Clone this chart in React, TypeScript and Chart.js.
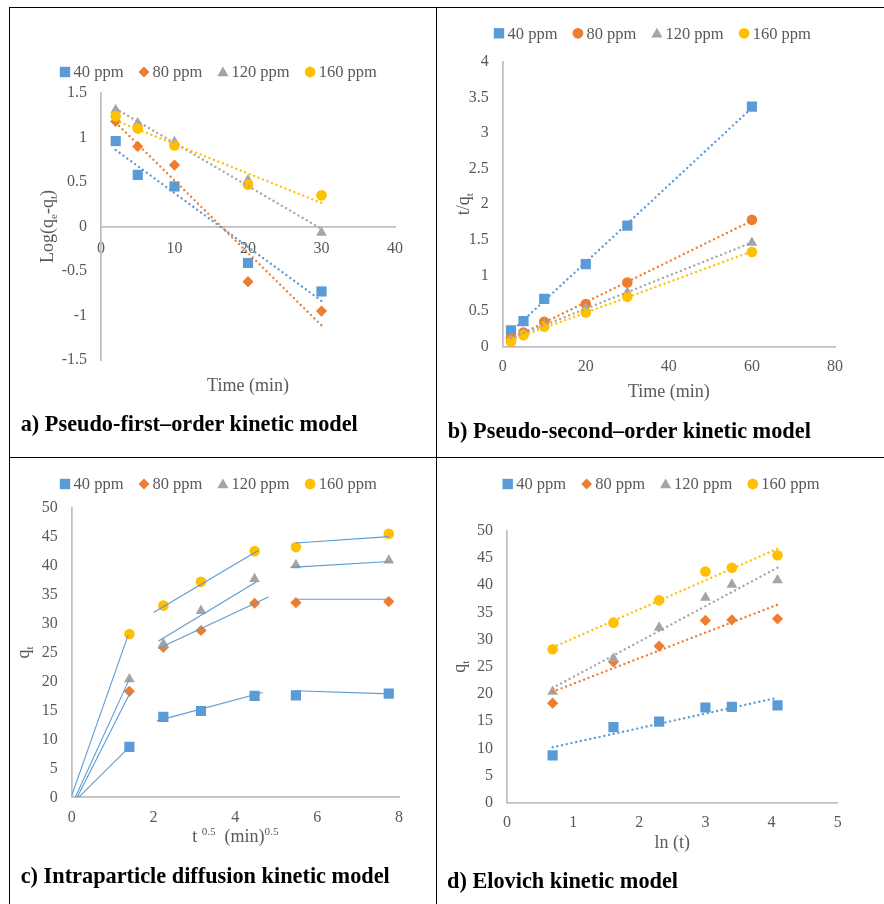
import React, { useEffect, useRef } from "react";
import { Chart, registerables } from "chart.js";

Chart.register(...registerables);

const FONT = "'Liberation Serif', 'Times New Roman', Times, serif";
const TEXT_GREY = "#595959";
const AXIS_GREY = "#BFBFBF";

const seriesLabels = ["40 ppm", "80 ppm", "120 ppm", "160 ppm"];
const seriesColors = ["#5B9BD5", "#ED7D31", "#A5A5A5", "#FFC000"];
const seriesShapes = ["rect", "rectRot", "triangle", "circle"];
const secondOrderShapes = ["rect", "circle", "triangle", "circle"];

// (a) pseudo-first-order: log(qe - qt) against time (min)
const pfoTime = [2, 5, 10, 20, 30];
const pfo40 = [0.96, 0.58, 0.45, -0.41, -0.73];
const pfo80 = [1.18, 0.9, 0.69, -0.62, -0.95];
const pfo120 = [1.31, 1.16, 0.95, 0.52, -0.07];
const pfo160 = [1.24, 1.1, 0.91, 0.47, 0.35];

// (b) pseudo-second-order: t/qt against time (min)
const psoTime = [2, 5, 10, 20, 30, 60];
const pso40 = [0.23, 0.36, 0.67, 1.16, 1.7, 3.37];
const pso80 = [0.12, 0.2, 0.35, 0.6, 0.9, 1.78];
const pso120 = [0.1, 0.19, 0.31, 0.54, 0.76, 1.46];
const pso160 = [0.07, 0.16, 0.28, 0.48, 0.7, 1.33];

// uptake qt (mg/g) at t = 2, 5, 10, 20, 30, 60 min
const sqrtTime = [1.41, 2.24, 3.16, 4.47, 5.48, 7.75];
const lnTime = [0.69, 1.61, 2.3, 3.0, 3.4, 4.09];
const qt40 = [8.7, 13.9, 14.9, 17.5, 17.6, 17.9];
const qt80 = [18.3, 25.9, 28.8, 33.5, 33.6, 33.8];
const qt120 = [20.4, 26.5, 32.2, 37.7, 40.1, 40.9];
const qt160 = [28.2, 33.1, 37.2, 42.5, 43.2, 45.5];

// (c) straight-line stages of the intraparticle diffusion plot: [x0, y0, x1, y1]
const ipdStages40 = [[0.14, -0.2, 1.5, 9.3], [2.08, 13.2, 4.67, 18.1], [5.46, 18.4, 7.78, 17.85]];
const ipdStages80 = [[0.08, -0.75, 1.43, 18.1], [2.12, 25.7, 4.81, 34.6], [5.46, 34.2, 7.78, 34.2]];
const ipdStages120 = [[0.04, -0.75, 1.41, 20.4], [2.12, 27.0, 4.52, 37.2], [5.35, 39.7, 7.78, 40.7]];
const ipdStages160 = [[0.0, 0.3, 1.38, 28.0], [2.0, 31.9, 4.56, 42.6], [5.48, 43.9, 7.75, 45.0]];

type Seg = { text: string; pos?: "sub" | "sup" };

const markerRadius: Record<string, number> = { rect: 7.2, rectRot: 5.6, triangle: 6.2, circle: 5.3 };

function fitLine(xs: number[], ys: number[]) {
  const n = xs.length;
  const mx = xs.reduce((a, b) => a + b, 0) / n;
  const my = ys.reduce((a, b) => a + b, 0) / n;
  let sxy = 0;
  let sxx = 0;
  xs.forEach((x, i) => {
    sxy += (x - mx) * (ys[i] - my);
    sxx += (x - mx) * (x - mx);
  });
  const m = sxy / sxx;
  const b = my - m * mx;
  const x0 = Math.min(...xs);
  const x1 = Math.max(...xs);
  return [{ x: x0, y: m * x0 + b }, { x: x1, y: m * x1 + b }];
}

function markerSets(xs: number[], series: number[][], shapes: string[]) {
  return series.map((ys, i) => ({
    type: "scatter",
    label: seriesLabels[i],
    data: xs.map((x, k) => ({ x, y: ys[k] })),
    pointStyle: shapes[i],
    pointRadius: markerRadius[shapes[i]],
    backgroundColor: seriesColors[i],
    borderColor: seriesColors[i],
    pointBorderWidth: 0,
    showLine: false,
    order: 4 - i,
    isMarker: true,
  }));
}

function trendSets(xs: number[], series: number[][]) {
  return series.map((ys, i) => ({
    type: "scatter",
    label: "",
    data: fitLine(xs, ys),
    showLine: true,
    pointRadius: 0,
    borderColor: seriesColors[i],
    borderWidth: 2.4,
    borderDash: [0.01, 4.8],
    borderCapStyle: "round",
    order: -1 - i,
  }));
}

function stageSets(stages: number[][][]) {
  const out: any[] = [];
  stages.forEach((segs, i) => {
    segs.forEach((s) => {
      out.push({
        type: "scatter",
        label: "",
        data: [{ x: s[0], y: s[1] }, { x: s[2], y: s[3] }],
        showLine: true,
        pointRadius: 0,
        borderColor: seriesColors[0],
        borderWidth: 1.1,
        order: -1 - i,
      });
    });
  });
  return out;
}

function drawRich(ctx: CanvasRenderingContext2D, segs: Seg[], cx: number, cy: number, size: number, angle: number) {
  const small = size * 0.62;
  ctx.save();
  ctx.translate(cx, cy);
  ctx.rotate(angle);
  const widths = segs.map((s) => {
    ctx.font = `${s.pos ? small : size}px ${FONT}`;
    return ctx.measureText(s.text).width;
  });
  const total = widths.reduce((a, b) => a + b, 0);
  let x = -total / 2;
  ctx.textAlign = "left";
  ctx.textBaseline = "alphabetic";
  ctx.fillStyle = TEXT_GREY;
  const base = size * 0.33;
  segs.forEach((s, i) => {
    ctx.font = `${s.pos ? small : size}px ${FONT}`;
    const dy = s.pos === "sub" ? size * 0.22 : s.pos === "sup" ? -size * 0.4 : 0;
    ctx.fillText(s.text, x, base + dy);
    x += widths[i];
  });
  ctx.restore();
}

function drawLegendMarker(ctx: CanvasRenderingContext2D, shape: string, x: number, y: number, color: string) {
  ctx.save();
  ctx.fillStyle = color;
  ctx.beginPath();
  if (shape === "rect") {
    ctx.rect(x - 5.2, y - 5.2, 10.4, 10.4);
  } else if (shape === "rectRot") {
    ctx.moveTo(x, y - 5.4);
    ctx.lineTo(x + 5.4, y);
    ctx.lineTo(x, y + 5.4);
    ctx.lineTo(x - 5.4, y);
  } else if (shape === "triangle") {
    ctx.moveTo(x, y - 5.6);
    ctx.lineTo(x + 5.6, y + 4.2);
    ctx.lineTo(x - 5.6, y + 4.2);
  } else {
    ctx.arc(x, y, 5.4, 0, Math.PI * 2);
  }
  ctx.closePath();
  ctx.fill();
  ctx.restore();
}

type TextCfg = {
  legendX: number;
  legendY: number;
  yTitle: Seg[];
  yTitleDx: number;
  xTitle: Seg[];
  xTitleDy: number;
};

function panelText(cfg: TextCfg) {
  return {
    id: "panelText",
    afterDraw(chart: any) {
      const { ctx, chartArea } = chart;
      // legend row
      ctx.save();
      ctx.font = `16.5px ${FONT}`;
      ctx.textAlign = "left";
      ctx.textBaseline = "middle";
      let x = cfg.legendX;
      chart.data.datasets
        .filter((d: any) => d.isMarker)
        .forEach((d: any) => {
          drawLegendMarker(ctx, d.pointStyle, x, cfg.legendY, d.backgroundColor);
          ctx.fillStyle = TEXT_GREY;
          ctx.fillText(d.label, x + 8.5, cfg.legendY + 1);
          x += 8.5 + ctx.measureText(d.label).width + 20.5;
        });
      ctx.restore();
      // axis titles
      const midX = (chartArea.left + chartArea.right) / 2;
      const midY = (chartArea.top + chartArea.bottom) / 2;
      drawRich(ctx, cfg.yTitle, chartArea.left - cfg.yTitleDx, midY, 18, -Math.PI / 2);
      drawRich(ctx, cfg.xTitle, midX, chartArea.bottom + cfg.xTitleDy, 18, 0);
    },
  };
}

function axis(min: number, max: number, step: number, pad: number, extra: any = {}) {
  return {
    type: "linear",
    min,
    max,
    grid: { display: false, drawTicks: false },
    border: { display: true, color: AXIS_GREY, width: 1.75 },
    ticks: {
      stepSize: step,
      color: TEXT_GREY,
      font: { family: FONT, size: 16 },
      padding: pad,
      maxRotation: 0,
      autoSkip: false,
      callback: (v: any) => String(Math.round(Number(v) * 100) / 100),
    },
    ...extra,
  };
}

function makeConfig(datasets: any[], padding: any, scales: any, text: TextCfg) {
  return {
    type: "scatter",
    data: { datasets },
    options: {
      responsive: false,
      animation: false,
      events: [],
      layout: { padding },
      plugins: { legend: { display: false }, tooltip: { enabled: false } },
      scales,
    },
    plugins: [panelText(text)],
  } as any;
}

const fixWidth = (w: number) => (s: any) => {
  s.width = w;
};
const fixHeight = (h: number) => (s: any) => {
  s.height = h;
};

function firstOrderConfig() {
  const series = [pfo40, pfo80, pfo120, pfo160];
  return makeConfig(
    [...markerSets(pfoTime, series, seriesShapes), ...trendSets(pfoTime, series)],
    { left: 31, right: 41, top: 85, bottom: 97 },
    {
      x: axis(0, 40, 10, 12.5, { position: { y: 0 } }),
      y: axis(-1.5, 1.5, 0.5, 14, { afterFit: fixWidth(60) }),
    },
    {
      legendX: 55,
      legendY: 64,
      yTitle: [{ text: "Log(q" }, { text: "e", pos: "sub" }, { text: "-q" }, { text: "t", pos: "sub" }, { text: ")" }],
      yTitleDx: 54.3,
      xTitle: [{ text: "Time (min)" }],
      xTitleDy: 25,
    }
  );
}

function secondOrderConfig() {
  const series = [pso40, pso80, pso120, pso160];
  return makeConfig(
    [...markerSets(psoTime, series, secondOrderShapes), ...trendSets(psoTime, series)],
    { left: 25.7, right: 49, top: 53.7, bottom: 70.3 },
    {
      x: axis(0, 80, 20, 10.5, { afterFit: fixHeight(40) }),
      y: axis(0, 4, 0.5, 14, { afterFit: fixWidth(40) }),
    },
    {
      legendX: 62,
      legendY: 25.3,
      yTitle: [{ text: "t/q" }, { text: "t", pos: "sub" }],
      yTitleDx: 40,
      xTitle: [{ text: "Time (min)" }],
      xTitleDy: 44,
    }
  );
}

function diffusionConfig() {
  const series = [qt40, qt80, qt120, qt160];
  return makeConfig(
    [...markerSets(sqrtTime, series, seriesShapes), ...stageSets([ipdStages40, ipdStages80, ipdStages120, ipdStages160])],
    { left: 21.7, right: 37, top: 49.7, bottom: 66.7 },
    {
      x: axis(0, 8, 2, 10.5, { afterFit: fixHeight(40) }),
      y: axis(0, 50, 5, 14, { afterFit: fixWidth(40) }),
    },
    {
      legendX: 55,
      legendY: 26,
      yTitle: [{ text: "q" }, { text: "t", pos: "sub" }],
      yTitleDx: 48.7,
      xTitle: [{ text: "t " }, { text: "0.5", pos: "sup" }, { text: "  (min)" }, { text: "0.5", pos: "sup" }],
      xTitleDy: 38.7,
    }
  );
}

function elovichConfig() {
  const series = [qt40, qt80, qt120, qt160];
  return makeConfig(
    [...markerSets(lnTime, series, seriesShapes), ...trendSets(lnTime, series)],
    { left: 30, right: 46.3, top: 72.7, bottom: 61.3 },
    {
      x: axis(0, 5, 1, 10.5, { afterFit: fixHeight(40) }),
      y: axis(0, 50, 5, 14, { afterFit: fixWidth(40) }),
    },
    {
      legendX: 70.7,
      legendY: 26,
      yTitle: [{ text: "q" }, { text: "t", pos: "sub" }],
      yTitleDx: 47.7,
      xTitle: [{ text: "ln (t)" }],
      xTitleDy: 39,
    }
  );
}

function Panel(props: { left: number; top: number; width: number; height: number; build: () => any }) {
  const ref = useRef<HTMLCanvasElement>(null);
  useEffect(() => {
    const chart = new Chart(ref.current as HTMLCanvasElement, props.build());
    return () => chart.destroy();
  }, []);
  return (
    <canvas
      ref={ref}
      width={props.width}
      height={props.height}
      style={{ position: "absolute", left: props.left, top: props.top, width: props.width, height: props.height }}
    />
  );
}

function Caption(props: { left: number; centerY: number; text: string }) {
  return (
    <div
      style={{
        position: "absolute",
        left: props.left,
        top: props.centerY - 13,
        height: 26,
        lineHeight: "26px",
        fontFamily: FONT,
        fontWeight: "bold",
        fontSize: 22.3,
        color: "#000",
        whiteSpace: "nowrap",
      }}
    >
      {props.text}
    </div>
  );
}

const rule = (left: number, top: number, width: number, height: number) => (
  <div style={{ position: "absolute", left, top, width, height, background: "#000" }} />
);

export default function App() {
  return (
    <div style={{ position: "fixed", left: 0, top: 0, width: 884, height: 904, background: "#fff", overflow: "hidden" }}>
      <Panel left={10} top={8} width={426} height={449} build={firstOrderConfig} />
      <Panel left={437} top={8} width={447} height={449} build={secondOrderConfig} />
      <Panel left={10} top={458} width={426} height={446} build={diffusionConfig} />
      <Panel left={437} top={458} width={447} height={446} build={elovichConfig} />
      <Caption left={20.7} centerY={424} text="a) Pseudo-first–order kinetic model" />
      <Caption left={447.7} centerY={431} text="b) Pseudo-second–order kinetic model" />
      <Caption left={20.7} centerY={875.7} text="c) Intraparticle diffusion kinetic model" />
      <Caption left={447} centerY={881} text="d) Elovich kinetic model" />
      {rule(9, 7, 875, 1)}
      {rule(9, 7, 1, 897)}
      {rule(436, 7, 1, 897)}
      {rule(9, 457, 875, 1)}
    </div>
  );
}
